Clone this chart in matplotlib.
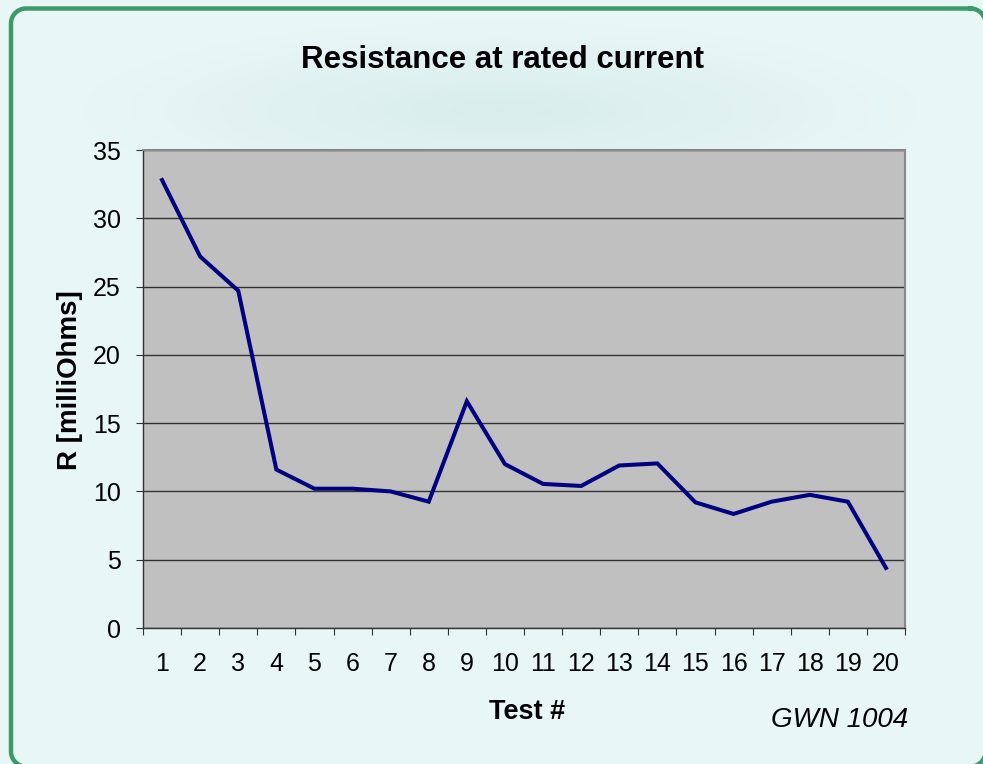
import numpy as np
import matplotlib
matplotlib.use("Agg")
import matplotlib.pyplot as plt

plt.rcParams['font.family'] = ['Liberation Sans', 'DejaVu Sans']
plt.rcParams['path.simplify'] = False

tests = list(range(1, 21))
resistance = [32.8, 27.2, 24.7, 11.6, 10.2, 10.2, 10.0, 9.25, 16.6, 12.0,
              10.55, 10.4, 11.9, 12.05, 9.2, 8.35, 9.25, 9.75, 9.25, 4.4]
yticks = [0, 5, 10, 15, 20, 25, 30, 35]

W, H = 983, 764
fig = plt.figure(figsize=(W / 100, H / 100), dpi=100)

# background gradient
bg = fig.add_axes([0, 0, 1, 1])
bg.axis('off')
yy, xx = np.mgrid[0:H, 0:W]
d = np.sqrt(((xx - 500) / 420.0) ** 2 + ((yy - 110) / 90.0) ** 2)
shade = np.clip(1 - d, 0, 1) * 0.06
base = np.array([0.91, 0.965, 0.965])
img = np.clip(base[None, None, :] - shade[..., None] * np.array([1.0, 0.6, 0.6]), 0, 1)
bg.imshow(img, extent=(0, W, H, 0), aspect='auto', zorder=0)
bg.set_xlim(0, W)
bg.set_ylim(H, 0)

# green rounded frame (decorative), as a dense polyline
x0, x1, y0, y1, r = 11.0, 985.5, 8.5, 766.5, 15.0
t = np.linspace(0, np.pi / 2, 20)
fx, fy = [], []
for cx, cy, a0 in [(x1 - r, y0 + r, -np.pi / 2), (x1 - r, y1 - r, 0.0),
                   (x0 + r, y1 - r, np.pi / 2), (x0 + r, y0 + r, np.pi)]:
    fx.extend(cx + r * np.cos(a0 + t))
    fy.extend(cy + r * np.sin(a0 + t))
fx.append(fx[0])
fy.append(fy[0])
bg.plot(fx, fy, color='#3a9a6a', linewidth=3.2, solid_joinstyle='round', zorder=1)

ax = fig.add_axes([143 / W, 1 - 628 / H, (905 - 143) / W, (628 - 150) / H])
ax.set_facecolor('#c0c0c0')
ax.plot(tests, resistance, color='#000080', linewidth=2.9, solid_joinstyle='miter', zorder=3)
ax.set_xlim(0.5, 20.5)
ax.set_ylim(0, 35)
ax.set_yticks(yticks)
ax.set_yticklabels([str(v) for v in yticks], fontsize=18)
ax.set_xticks(np.arange(0.5, 21, 1))
ax.set_xticklabels([])
ax.set_xticks(tests, minor=True)
ax.set_xticklabels([str(t) for t in tests], minor=True, fontsize=18)
ax.tick_params(axis='x', which='minor', length=0, pad=17)
ax.tick_params(axis='x', which='major', length=5, direction='out', color='#333333')
ax.tick_params(axis='y', length=5, direction='out', color='#333333', pad=11)
ax.grid(axis='y', color='#333333', linewidth=1.0)
ax.set_axisbelow(True)
for s in ['left', 'bottom']:
    ax.spines[s].set_color('#333333')
    ax.spines[s].set_linewidth(1.0)
for s in ['top', 'right']:
    ax.spines[s].set_color('#888888')
    ax.spines[s].set_linewidth(1.5)

fig.text(502 / W, 1 - 60 / H, 'Resistance at rated current', ha='center', va='center',
         fontsize=22.5, fontweight='bold')
fig.text(70 / W, 1 - 380 / H, 'R [milliOhms]', ha='center', va='center', rotation=90,
         fontsize=20, fontweight='bold')
fig.text(527 / W, 1 - 712 / H, 'Test #', ha='center', va='center',
         fontsize=19.5, fontweight='bold')
fig.text(840 / W, 1 - 720 / H, 'GWN 1004', ha='center', va='center',
         fontsize=20, fontstyle='italic')

fig.savefig('out.png', dpi=100)
